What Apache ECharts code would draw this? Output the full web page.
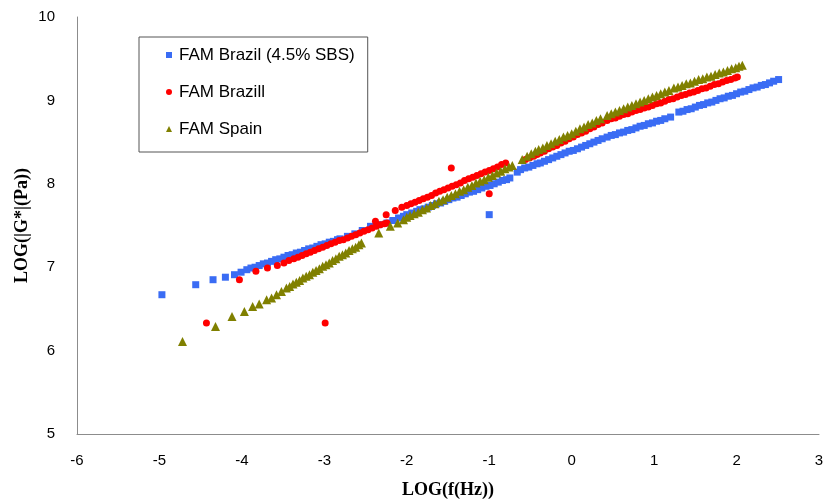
<!DOCTYPE html>
<html>
<head>
<meta charset="utf-8">
<script src="https://cdn.jsdelivr.net/npm/echarts@6/dist/echarts.min.js"></script>
<style>
  html, body { margin: 0; padding: 0; background: #fff; }
  #chart { width: 824px; height: 504px; }
</style>
</head>
<body>
<div id="chart"></div>
<script>
// series names, as in the legend
const seriesNames = ['FAM Brazil (4.5% SBS)', 'FAM Brazill', 'FAM Spain'];

// [LOG(f), LOG(|G*|)]
const brazilSbs = [
    [-4.97, 6.67], [-4.56, 6.79], [-4.35, 6.85], [-4.20, 6.88], [-4.09, 6.91], [-4.01, 6.94],
    [-3.94, 6.97], [-3.89, 6.99], [-3.84, 7.00], [-3.79, 7.02], [-3.74, 7.04], [-3.69, 7.05],
    [-3.64, 7.07], [-3.59, 7.09], [-3.54, 7.10], [-3.49, 7.12], [-3.44, 7.14], [-3.39, 7.15],
    [-3.34, 7.17], [-3.29, 7.18], [-3.24, 7.20], [-3.19, 7.22], [-3.14, 7.23], [-3.09, 7.25],
    [-3.04, 7.27], [-2.99, 7.28], [-2.94, 7.30], [-2.89, 7.31], [-2.84, 7.33], [-2.81, 7.34],
    [-2.72, 7.37], [-2.63, 7.40], [-2.54, 7.44], [-2.44, 7.49], [-2.34, 7.51], [-2.24, 7.53],
    [-2.17, 7.56], [-2.10, 7.59], [-2.04, 7.61], [-2.00, 7.63], [-1.94, 7.65], [-1.88, 7.67],
    [-1.84, 7.69], [-1.79, 7.70], [-1.74, 7.72], [-1.69, 7.74], [-1.64, 7.76], [-1.59, 7.77],
    [-1.54, 7.79], [-1.49, 7.81], [-1.44, 7.83], [-1.39, 7.84], [-1.34, 7.86], [-1.29, 7.88],
    [-1.24, 7.90], [-1.19, 7.91], [-1.14, 7.93], [-1.09, 7.95], [-1.04, 7.97], [-0.99, 7.98],
    [-0.94, 8.00], [-0.89, 8.02], [-0.84, 8.04], [-0.79, 8.05], [-0.75, 8.07],
    [-0.66, 8.14], [-0.62, 8.17], [-0.57, 8.19], [-0.52, 8.20], [-0.47, 8.22], [-0.42, 8.24],
    [-0.38, 8.25], [-0.33, 8.27], [-0.28, 8.29], [-0.23, 8.31], [-0.18, 8.33], [-0.13, 8.35],
    [-0.08, 8.37], [-0.03, 8.39], [0.02, 8.40], [0.07, 8.42], [0.12, 8.44], [0.17, 8.46],
    [0.22, 8.48], [0.27, 8.50], [0.32, 8.52], [0.37, 8.54], [0.43, 8.56], [0.48, 8.58],
    [0.53, 8.59], [0.58, 8.61], [0.63, 8.62], [0.68, 8.64], [0.73, 8.65], [0.78, 8.67],
    [0.83, 8.69], [0.88, 8.70], [0.93, 8.72], [0.98, 8.73], [1.03, 8.75], [1.08, 8.76],
    [1.13, 8.78], [1.20, 8.80],
    [1.30, 8.86], [1.35, 8.87], [1.40, 8.89], [1.45, 8.90], [1.50, 8.92], [1.55, 8.94],
    [1.60, 8.95], [1.65, 8.97], [1.70, 8.98], [1.75, 9.00], [1.80, 9.02], [1.85, 9.03],
    [1.90, 9.05], [1.95, 9.06], [2.00, 9.08], [2.05, 9.10], [2.10, 9.11], [2.15, 9.13],
    [2.20, 9.15], [2.25, 9.16], [2.30, 9.18], [2.35, 9.19], [2.40, 9.21], [2.45, 9.23],
    [2.51, 9.25],
    [-1.00, 7.63]
];

const brazil = [
    [-4.43, 6.33], [-4.03, 6.85], [-3.83, 6.95], [-3.69, 6.99], [-3.57, 7.02], [-3.49, 7.05],
    [-3.43, 7.08], [-3.37, 7.10], [-3.32, 7.12], [-3.27, 7.14], [-3.22, 7.16], [-3.17, 7.18],
    [-3.12, 7.20], [-3.07, 7.22], [-3.02, 7.24], [-2.97, 7.26], [-2.92, 7.28], [-2.87, 7.30],
    [-2.82, 7.32], [-2.77, 7.33], [-2.72, 7.35], [-2.67, 7.37], [-2.62, 7.39], [-2.57, 7.41],
    [-2.52, 7.43], [-2.47, 7.45], [-2.42, 7.47], [-2.37, 7.49], [-2.32, 7.51], [-2.27, 7.52],
    [-2.24, 7.53],
    [-2.99, 6.33],
    [-2.38, 7.55], [-2.25, 7.63], [-2.14, 7.68], [-2.06, 7.72], [-2.00, 7.74],
    [-1.95, 7.76], [-1.90, 7.78], [-1.85, 7.80], [-1.80, 7.82], [-1.75, 7.84], [-1.70, 7.86],
    [-1.65, 7.89], [-1.60, 7.91], [-1.55, 7.93], [-1.50, 7.95], [-1.45, 7.97], [-1.40, 7.99],
    [-1.35, 8.01], [-1.30, 8.04], [-1.25, 8.06], [-1.20, 8.08], [-1.15, 8.10], [-1.10, 8.12],
    [-1.05, 8.14], [-1.00, 8.16], [-0.95, 8.18], [-0.90, 8.20], [-0.85, 8.23], [-0.80, 8.25],
    [-1.46, 8.19], [-1.00, 7.88],
    [-0.56, 8.29], [-0.51, 8.31], [-0.46, 8.33], [-0.42, 8.35], [-0.38, 8.37], [-0.33, 8.39],
    [-0.28, 8.42], [-0.23, 8.44], [-0.18, 8.46], [-0.13, 8.49], [-0.08, 8.51], [-0.03, 8.54],
    [0.02, 8.56], [0.07, 8.59], [0.12, 8.61], [0.17, 8.63], [0.22, 8.66], [0.27, 8.68],
    [0.32, 8.71], [0.37, 8.73], [0.43, 8.76], [0.48, 8.78], [0.53, 8.79], [0.58, 8.81],
    [0.63, 8.83], [0.68, 8.84], [0.73, 8.86], [0.78, 8.88], [0.83, 8.89], [0.88, 8.91],
    [0.93, 8.92], [0.98, 8.94], [1.03, 8.96], [1.08, 8.97], [1.13, 8.99], [1.18, 9.01],
    [1.23, 9.02], [1.28, 9.04], [1.33, 9.06], [1.38, 9.07], [1.43, 9.09], [1.48, 9.10],
    [1.53, 9.12], [1.58, 9.14], [1.63, 9.15], [1.68, 9.17], [1.73, 9.19], [1.78, 9.20],
    [1.83, 9.22], [1.88, 9.24], [1.93, 9.25], [1.98, 9.27], [2.01, 9.28]
];

const spain = [
    [-4.72, 6.11], [-4.32, 6.29], [-4.12, 6.41], [-3.97, 6.47], [-3.87, 6.53], [-3.79, 6.56],
    [-3.70, 6.61], [-3.64, 6.63], [-3.58, 6.67], [-3.52, 6.71], [-3.46, 6.75],
    [-3.42, 6.77], [-3.38, 6.80], [-3.34, 6.82], [-3.30, 6.84], [-3.26, 6.87], [-3.22, 6.89],
    [-3.18, 6.91], [-3.14, 6.94], [-3.10, 6.96], [-3.06, 6.98], [-3.02, 7.01], [-2.98, 7.03],
    [-2.94, 7.05], [-2.90, 7.08], [-2.86, 7.10], [-2.82, 7.13], [-2.78, 7.15], [-2.74, 7.17],
    [-2.70, 7.20], [-2.66, 7.22], [-2.62, 7.24], [-2.58, 7.27], [-2.55, 7.29],
    [-2.34, 7.41], [-2.20, 7.49], [-2.11, 7.53], [-2.04, 7.57], [-2.00, 7.60],
    [-1.96, 7.62], [-1.91, 7.64], [-1.86, 7.66], [-1.81, 7.69], [-1.76, 7.71], [-1.71, 7.74],
    [-1.66, 7.76], [-1.61, 7.79], [-1.56, 7.81], [-1.51, 7.84], [-1.46, 7.86], [-1.41, 7.88],
    [-1.36, 7.91], [-1.31, 7.93], [-1.26, 7.96], [-1.21, 7.98], [-1.16, 8.01], [-1.11, 8.03],
    [-1.06, 8.05], [-1.01, 8.08], [-0.96, 8.10], [-0.91, 8.13], [-0.86, 8.15], [-0.81, 8.18],
    [-0.76, 8.20], [-0.72, 8.22],
    [-0.60, 8.29], [-0.54, 8.33], [-0.49, 8.36], [-0.44, 8.39], [-0.40, 8.41], [-0.35, 8.43],
    [-0.30, 8.46], [-0.25, 8.48], [-0.20, 8.51], [-0.15, 8.53], [-0.10, 8.56], [-0.05, 8.58],
    [0.00, 8.60], [0.05, 8.63], [0.10, 8.66], [0.15, 8.68], [0.20, 8.71], [0.25, 8.73],
    [0.30, 8.76], [0.35, 8.78], [0.43, 8.82], [0.48, 8.84], [0.53, 8.86], [0.58, 8.88],
    [0.63, 8.90], [0.68, 8.92], [0.73, 8.94], [0.78, 8.96], [0.83, 8.98], [0.88, 9.00],
    [0.93, 9.02], [0.98, 9.04], [1.03, 9.06], [1.08, 9.08], [1.13, 9.10], [1.18, 9.12],
    [1.24, 9.15], [1.29, 9.16], [1.34, 9.18], [1.39, 9.20], [1.44, 9.21], [1.49, 9.23],
    [1.54, 9.25], [1.59, 9.26], [1.64, 9.28], [1.69, 9.29], [1.74, 9.31], [1.79, 9.33],
    [1.84, 9.34], [1.89, 9.36], [1.94, 9.38], [1.99, 9.39], [2.03, 9.41], [2.07, 9.42]
];

var chart = echarts.init(document.getElementById('chart'));

var option = {
    backgroundColor: '#fff',
    animation: false,
    textStyle: { fontFamily: 'Liberation Sans, Arial, sans-serif' },
    grid: {
        left: 77,
        right: 5,
        top: 17,
        bottom: 70,
        containLabel: false,
        outerBoundsMode: 'none'
    },
    legend: {
        orient: 'vertical',
        left: 139,
        top: 37,
        padding: [9, 13, 14, 27],
        itemGap: 19,
        itemWidth: 6,
        itemHeight: 6,
        borderColor: '#555',
        borderWidth: 1,
        data: seriesNames,
        textStyle: {
            fontSize: 17,
            lineHeight: 18,
            color: '#000',
            padding: [0, 0, 0, 2]
        }
    },
    xAxis: {
        type: 'value',
        min: -6,
        max: 3,
        interval: 1,
        name: 'LOG(f(Hz))',
        nameLocation: 'middle',
        nameGap: 47,
        nameMoveOverlap: false,
        nameTextStyle: {
            fontFamily: 'Liberation Serif, Times New Roman, serif',
            fontWeight: 'bold',
            fontSize: 18,
            color: '#000'
        },
        axisLine: { onZero: false, lineStyle: { color: '#8c8c8c', width: 1 } },
        axisTick: { show: false },
        splitLine: { show: false },
        axisLabel: { color: '#000', fontSize: 15, margin: 19 }
    },
    yAxis: {
        type: 'value',
        min: 5,
        max: 10,
        interval: 1,
        name: 'LOG(|G*|(Pa))',
        nameLocation: 'middle',
        nameGap: 46,
        nameMoveOverlap: false,
        nameTextStyle: {
            fontFamily: 'Liberation Serif, Times New Roman, serif',
            fontWeight: 'bold',
            fontSize: 18,
            color: '#000'
        },
        axisLine: { show: true, onZero: false, lineStyle: { color: '#8c8c8c', width: 1 } },
        axisTick: { show: false },
        splitLine: { show: false },
        axisLabel: { color: '#000', fontSize: 15, margin: 22 }
    },
    series: [
        {
            name: seriesNames[0],
            type: 'scatter',
            symbol: 'rect',
            symbolSize: 7,
            itemStyle: { color: '#3a6cf4', opacity: 1 },
            data: brazilSbs
        },
        {
            name: seriesNames[1],
            type: 'scatter',
            symbol: 'circle',
            symbolSize: 7,
            itemStyle: { color: '#ff0000', opacity: 1 },
            data: brazil
        },
        {
            name: seriesNames[2],
            type: 'scatter',
            symbol: 'triangle',
            symbolSize: 9,
            itemStyle: { color: '#808000', opacity: 1 },
            data: spain
        }
    ]
};

chart.setOption(option);
</script>
</body>
</html>
